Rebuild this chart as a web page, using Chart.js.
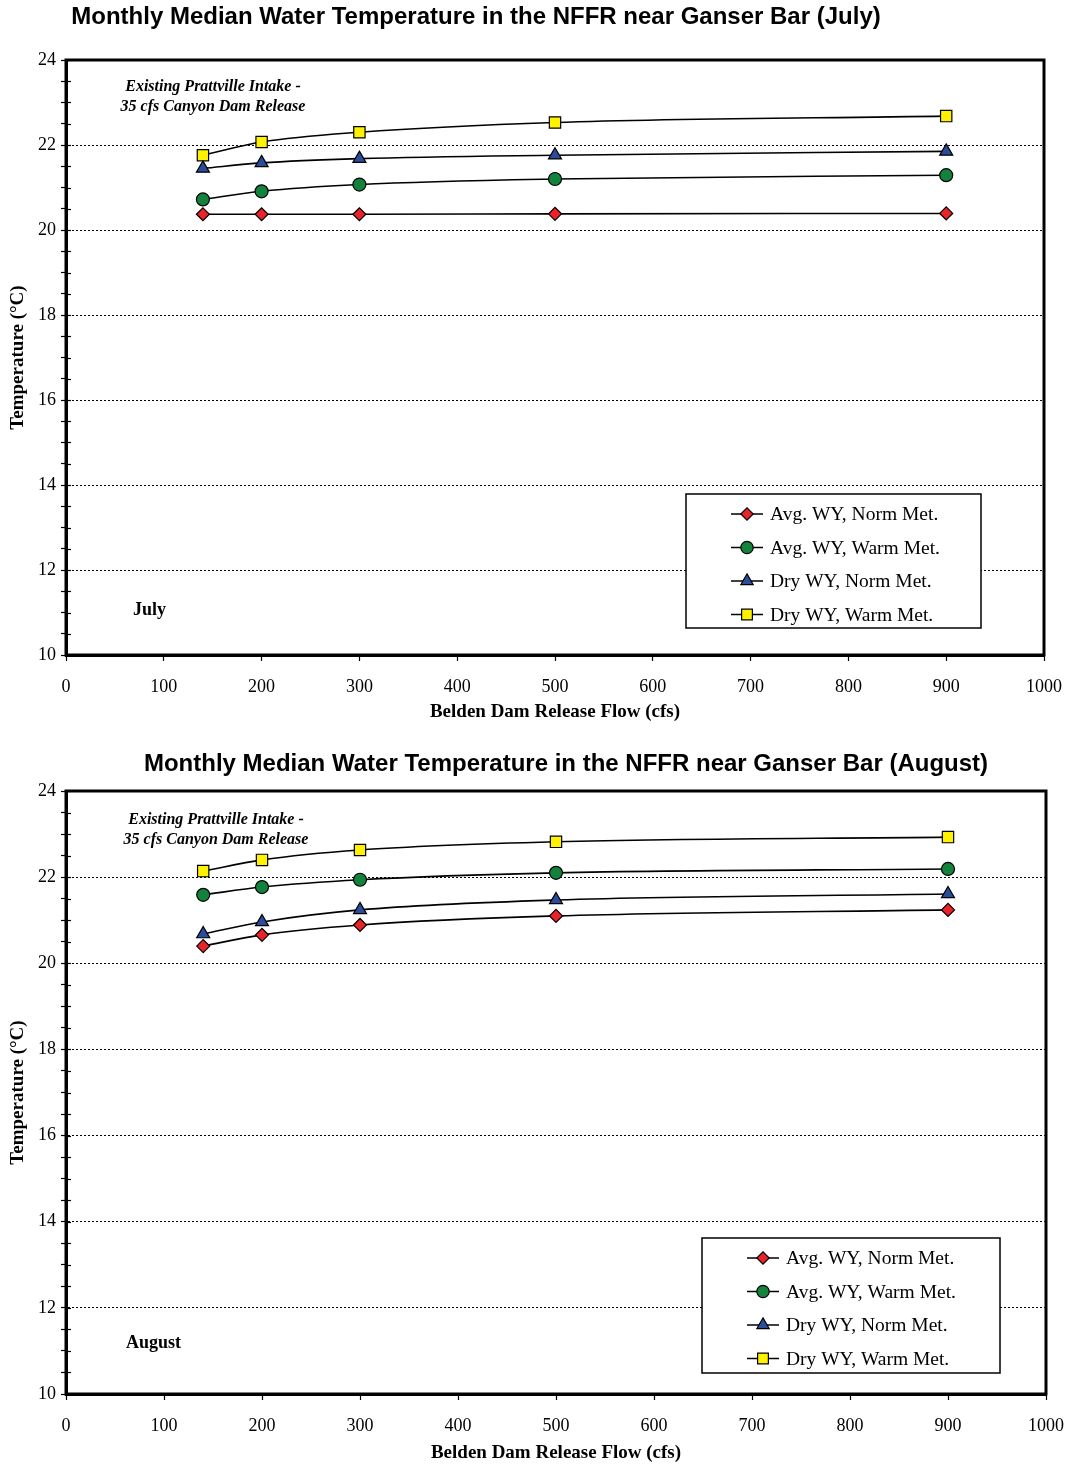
<!DOCTYPE html>
<html lang="en">
<head>
    <meta charset="UTF-8">
    <title>Monthly Median Water Temperature - NFFR near Ganser Bar</title>
    <style>
        body {
            margin: 0;
            background: #fff;
        }
        .chart-box {
            position: absolute;
            left: 0;
            width: 1070px;
            height: 732px;
        }
    </style>
    <script src="https://cdn.jsdelivr.net/npm/chart.js"></script>
</head>
<body>
    <div class="chart-box" style="top:0"><canvas id="julyChart" width="1070" height="732"></canvas></div>
    <div class="chart-box" style="top:732px"><canvas id="augustChart" width="1070" height="732"></canvas></div>

    <script>
        // Data
        var flows = [140, 200, 300, 500, 900];
        var seriesNames = ['Avg. WY, Norm Met.', 'Avg. WY, Warm Met.', 'Dry WY, Norm Met.', 'Dry WY, Warm Met.'];

        var julyAvgNorm = [20.37, 20.37, 20.37, 20.38, 20.39];
        var julyAvgWarm = [20.72, 20.91, 21.07, 21.2, 21.29];
        var julyDryNorm = [21.45, 21.58, 21.68, 21.76, 21.85];
        var julyDryWarm = [21.76, 22.07, 22.3, 22.53, 22.68];

        var augAvgNorm = [20.4, 20.66, 20.89, 21.1, 21.24];
        var augAvgWarm = [21.59, 21.77, 21.94, 22.1, 22.19];
        var augDryNorm = [20.68, 20.96, 21.24, 21.47, 21.61];
        var augDryWarm = [22.14, 22.4, 22.63, 22.82, 22.93];

        var yMin = 10, yMax = 24, yStep = 0.5;
        var xMin = 0, xMax = 1000, xStep = 100;

        var serif = '"Liberation Serif", "Times New Roman", serif';
        var sans = '"Liberation Sans", Arial, sans-serif';

        // marker styles per series
        var markers = [
            { pointStyle: 'rectRot', color: '#e8242a', radius: 6.5 },
            { pointStyle: 'circle', color: '#13823c', radius: 6.5 },
            { pointStyle: 'triangle', color: '#2b4c9b', radius: 7.5 },
            { pointStyle: 'rect', color: '#fff200', radius: 8 }
        ];

        function buildDatasets(values) {
            return values.map(function (arr, i) {
                return {
                    label: seriesNames[i],
                    data: flows.map(function (f, j) { return { x: f, y: arr[j] }; }),
                    borderColor: '#000',
                    borderWidth: 1.6,
                    backgroundColor: markers[i].color,
                    pointStyle: markers[i].pointStyle,
                    pointRadius: markers[i].radius,
                    pointBorderColor: '#000',
                    pointBorderWidth: 1.2,
                    cubicInterpolationMode: 'monotone',
                    fill: false
                };
            });
        }

        // frame, inner tick marks, title, note, month label and legend box
        var decorPlugin = {
            id: 'decor',
            beforeDatasetsDraw: function (chart, args, o) {
                var ctx = chart.ctx, a = chart.chartArea;
                var ys = chart.scales.y;
                ctx.save();
                ctx.strokeStyle = '#000';
                ctx.lineWidth = 1.2;
                ys.ticks.forEach(function (t) {
                    var py = Math.round(ys.getPixelForValue(t.value)) + 0.5;
                    ctx.beginPath();
                    ctx.moveTo(a.left, py);
                    ctx.lineTo(a.left + 5, py);
                    ctx.stroke();
                });
                ctx.lineWidth = 3;
                ctx.strokeRect(a.left, a.top, a.right - a.left, a.bottom - a.top);
                ctx.restore();
            },
            afterDatasetsDraw: function (chart, args, o) {
                var ctx = chart.ctx;
                ctx.save();
                ctx.fillStyle = '#000';
                ctx.textAlign = 'center';
                ctx.textBaseline = 'middle';

                ctx.font = 'bold 24px ' + sans;
                ctx.fillText(o.title, o.titleX, o.titleY);

                ctx.font = 'italic bold 16px ' + serif;
                ctx.fillText('Existing Prattville Intake -', o.noteX, o.noteY);
                ctx.fillText('35 cfs Canyon Dam Release', o.noteX, o.noteY + 20);

                ctx.font = 'bold 18px ' + serif;
                ctx.textAlign = 'left';
                ctx.fillText(o.month, o.monthX, o.monthY);

                // legend
                var b = o.legend;
                ctx.fillStyle = '#fff';
                ctx.fillRect(b.x, b.y, b.w, b.h);
                ctx.strokeStyle = '#000';
                ctx.lineWidth = 1.5;
                ctx.strokeRect(b.x, b.y, b.w, b.h);

                ctx.font = '19.5px ' + serif;
                chart.data.datasets.forEach(function (ds, i) {
                    var cy = b.y + 20 + i * 33.5;
                    var lx = b.x + 45;
                    ctx.strokeStyle = '#000';
                    ctx.lineWidth = 1.5;
                    ctx.beginPath();
                    ctx.moveTo(lx, cy);
                    ctx.lineTo(lx + 32, cy);
                    ctx.stroke();
                    ctx.fillStyle = ds.backgroundColor;
                    ctx.strokeStyle = '#000';
                    ctx.lineWidth = 1.2;
                    Chart.helpers.drawPoint(ctx, {
                        pointStyle: ds.pointStyle,
                        radius: ds.pointRadius * 0.95,
                        borderWidth: 1.2,
                        rotation: 0
                    }, lx + 16, cy);
                    ctx.fillStyle = '#000';
                    ctx.fillText(ds.label, lx + 39, cy + 1);
                });
                ctx.restore();
            }
        };

        function makeChart(id, values, lay, decor) {
            var ctx = document.getElementById(id).getContext('2d');
            return new Chart(ctx, {
                type: 'line',
                data: { datasets: buildDatasets(values) },
                plugins: [decorPlugin],
                options: {
                    responsive: false,
                    animation: false,
                    layout: { padding: { top: lay.top, right: lay.right, left: 0, bottom: 0 } },
                    plugins: {
                        legend: { display: false },
                        tooltip: { enabled: false },
                        decor: decor
                    },
                    scales: {
                        x: {
                            type: 'linear',
                            min: xMin,
                            max: xMax,
                            afterFit: function (s) {
                                s.height = lay.xHeight;
                                s.paddingLeft = 0;
                                s.paddingRight = 0;
                            },
                            ticks: {
                                stepSize: xStep,
                                color: '#000',
                                padding: lay.xTickPad,
                                maxRotation: 0,
                                font: { family: serif, size: 18 },
                                callback: function (v) { return String(v); }
                            },
                            grid: {
                                drawOnChartArea: false,
                                tickLength: 6,
                                tickColor: '#000',
                                tickWidth: 1.2
                            },
                            border: { color: '#000', width: 3 },
                            title: {
                                display: true,
                                text: 'Belden Dam Release Flow (cfs)',
                                color: '#000',
                                font: { family: serif, size: 19, weight: 'bold' },
                                padding: { top: 0, bottom: lay.xTitlePad }
                            }
                        },
                        y: {
                            min: yMin,
                            max: yMax,
                            afterFit: function (s) { s.width = 66; },
                            ticks: {
                                stepSize: yStep,
                                autoSkip: false,
                                color: '#000',
                                padding: 5,
                                font: { family: serif, size: 18 },
                                callback: function (v) { return v % 2 === 0 ? v : ''; }
                            },
                            grid: {
                                color: function (c) {
                                    var v = c.tick ? c.tick.value : null;
                                    return (v !== null && v % 2 === 0) ? '#000' : 'rgba(0,0,0,0)';
                                },
                                lineWidth: 1,
                                tickLength: 5,
                                tickColor: '#000',
                                tickWidth: 1.2
                            },
                            border: { color: '#000', width: 3, dash: [2, 2] },
                            title: {
                                display: true,
                                text: 'Temperature (\u00B0C)',
                                color: '#000',
                                font: { family: serif, size: 19, weight: 'bold' },
                                padding: { top: 7, bottom: 0 }
                            }
                        }
                    }
                }
            });
        }

        makeChart('julyChart', [julyAvgNorm, julyAvgWarm, julyDryNorm, julyDryWarm],
            { top: 60, right: 26, xHeight: 77, xTickPad: 15, xTitlePad: 9 },
            {
                title: 'Monthly Median Water Temperature in the NFFR near Ganser Bar (July)',
                titleX: 476, titleY: 17,
                noteX: 213, noteY: 87,
                month: 'July', monthX: 133, monthY: 610,
                legend: { x: 686, y: 494, w: 295, h: 134 }
            });

        makeChart('augustChart', [augAvgNorm, augAvgWarm, augDryNorm, augDryWarm],
            { top: 59, right: 24, xHeight: 70, xTickPad: 15, xTitlePad: 0 },
            {
                title: 'Monthly Median Water Temperature in the NFFR near Ganser Bar (August)',
                titleX: 566, titleY: 32,
                noteX: 216, noteY: 88,
                month: 'August', monthX: 126, monthY: 611,
                legend: { x: 702, y: 506, w: 298, h: 135 }
            });
    </script>
</body>
</html>
